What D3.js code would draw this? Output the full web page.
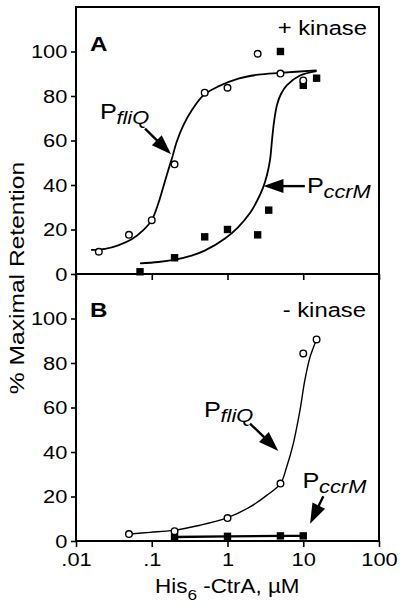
<!DOCTYPE html>
<html><head><meta charset="utf-8">
<script src="https://cdn.jsdelivr.net/npm/d3@7"></script>
<style>body{margin:0;background:#fff} svg{display:block}</style>
</head><body><svg id="c" width="400" height="604"></svg>
<script>
// ---------- data ----------
const xTicks = [0.01, 0.1, 1, 10, 100];
const xTickLabels = [".01", ".1", "1", "10", "100"];
const yTicks = [0, 20, 40, 60, 80, 100];

// Panel A (+ kinase)
const aFliQConc = [0.02, 0.05, 0.1, 0.2, 0.5, 1, 2.5, 5, 10];
const aFliQVal  = [10, 17.6, 24.2, 49.3, 81.5, 83.7, 99, 90.1, 87];
const aCcrMConc = [0.07, 0.2, 0.5, 1, 2.5, 3.5, 5, 10, 15];
const aCcrMVal  = [1, 7.3, 16.7, 20, 17.6, 28.7, 100, 84.8, 88];
const aFliQFitConc = [0.0158, 0.0242, 0.0361, 0.0543, 0.0773, 0.1, 0.122, 0.142, 0.165, 0.187, 0.213, 0.261, 0.336, 0.48, 0.757, 1.39, 2.55, 4.93, 15];
const aFliQFitVal  = [10.8, 11.3, 12.9, 15.6, 19.7, 24.2, 31.7, 39.1, 46.6, 52.6, 59.3, 66.8, 73.5, 80.3, 84.3, 87.8, 89.6, 90.4, 91.5];
const aCcrMFitConc = [0.07, 0.122, 0.203, 0.336, 0.5, 0.927, 1.377, 1.98, 2.45, 2.94, 3.32, 3.64, 3.87, 4.11, 4.5, 5.08, 6.1, 9.06, 15];
const aCcrMFitVal  = [4.8, 5.4, 6.5, 8.3, 10.5, 16, 21, 27.4, 32.8, 38.7, 44.5, 51.2, 60.2, 68.3, 76, 80.9, 84.9, 89.2, 91.2];

// Panel B (- kinase)
const bFliQConc = [0.05, 0.2, 1, 5, 10, 15];
const bFliQVal  = [3.1, 4.4, 10.3, 25.8, 84.3, 90.6];
const bCcrMConc = [0.2, 1, 5, 10];
const bCcrMVal  = [1.8, 2.1, 2.3, 2.3];
const bFliQFitConc = [0.05, 0.095, 0.192, 0.434, 1, 1.98, 3.29, 5, 6.04, 7.39, 9.06, 10.5, 12.3, 15];
const bFliQFitVal  = [3.1, 3.9, 4.8, 7.1, 10.5, 15.3, 20.5, 25.8, 33.3, 43.8, 58.8, 72.3, 82.7, 90.6];

// annotations (data coordinates)
const aArrows = [{from: [0.0815, 65.3], to: [0.18, 53.8]}, {from: [10.5, 39.5], to: [2.98, 39.5]}];
const aLabels = [{at: [0.0207, 69.5], sub: "fliQ"}, {at: [11.2, 36.3], sub: "ccrM"}];
const bArrows = [{from: [1.98, 52.8], to: [4.69, 40.5]}, {from: [18.4, 20.1], to: [12.3, 7.8]}];
const bLabels = [{at: [0.49, 55.6], sub: "fliQ"}, {at: [9.78, 23.7], sub: "ccrM"}];

// ---------- drawing ----------
const SX = 1.15;
const FONT = "'Liberation Sans', Arial, Helvetica, sans-serif";
const svg = d3.select("#c");
const left = 76, right = 379;
const x = d3.scaleLog().domain([0.01, 100]).range([left, right]);
const yA = d3.scaleLinear().domain([0, 120]).range([274, 7]);
const yB = d3.scaleLinear().domain([0, 120]).range([541, 274]);

function txt(px, py, s, o = {}) {
  const t = svg.append("text")
    .attr("transform", `translate(${px},${py})${o.rotate ? ` rotate(${o.rotate})` : ""} scale(${o.sx || SX},1)`)
    .attr("font-family", FONT)
    .attr("font-size", o.size || 18.5)
    .attr("font-weight", o.weight || "normal")
    .attr("font-style", o.style || "normal")
    .attr("text-anchor", o.anchor || "start")
    .attr("fill", "#000");
  t.text(s);
  return t;
}

const zip = (a, b) => a.map((d, i) => [d, b[i]]);

function panel(y, fliQ, ccrM, fliQFit, ccrMFit, ccrMLinear, arrows, labels, fitWidth) {
  const line = d3.line().x(d => x(d[0])).y(d => y(d[1])).curve(d3.curveCatmullRom.alpha(0.5));
  const g = svg.append("g");
  g.append("path").attr("d", line(fliQFit)).attr("fill", "none").attr("stroke", "#000").attr("stroke-width", fitWidth);
  if (ccrMFit) {
    g.append("path").attr("d", line(ccrMFit)).attr("fill", "none").attr("stroke", "#000").attr("stroke-width", fitWidth);
  }
  if (ccrMLinear) {
    const l2 = d3.line().x(d => x(d[0])).y(d => y(d[1]));
    g.append("path").attr("d", l2(ccrM)).attr("fill", "none").attr("stroke", "#000").attr("stroke-width", 2.4);
  }
  const s = 7.4;
  g.selectAll(".sq").data(ccrM).join("rect")
    .attr("x", d => x(d[0]) - s / 2).attr("y", d => y(d[1]) - s / 2)
    .attr("width", s).attr("height", s).attr("fill", "#000");
  g.selectAll(".ci").data(fliQ).join("circle")
    .attr("cx", d => x(d[0])).attr("cy", d => y(d[1])).attr("r", 3.3)
    .attr("fill", "#fff").attr("stroke", "#000").attr("stroke-width", 1.4);

  arrows.forEach(a => {
    const x1 = x(a.from[0]), y1 = y(a.from[1]), x2 = x(a.to[0]), y2 = y(a.to[1]);
    const dx = x2 - x1, dy = y2 - y1, len = Math.hypot(dx, dy);
    const ux = dx / len, uy = dy / len, L = 20, W = 7;
    const bx = x2 - ux * L, by = y2 - uy * L;
    g.append("line").attr("x1", x1).attr("y1", y1).attr("x2", bx + ux * 2).attr("y2", by + uy * 2)
      .attr("stroke", "#000").attr("stroke-width", 2.4);
    g.append("path").attr("d", `M${x2},${y2}L${bx - uy * W},${by + ux * W}L${bx + uy * W},${by - ux * W}Z`).attr("fill", "#000");
  });
  labels.forEach(l => {
    const px = x(l.at[0]), py = y(l.at[1]);
    txt(px, py, "P", {size: 22});
    txt(px + 16.5, py + 5, l.sub, {size: 19, style: "italic"});
  });

  // y axis
  const ax = d3.axisLeft(y).tickValues(yTicks).tickSize(5).tickPadding(2.5).tickSizeOuter(0);
  const ag = svg.append("g").attr("transform", `translate(${left},0)`).call(ax);
  ag.select(".domain").remove();
  ag.selectAll("line").attr("stroke-width", 1.6);
  ag.selectAll("text").attr("font-family", FONT).attr("font-size", 19).attr("fill", "#000")
    .attr("transform", `scale(${SX},1)`);
}

panel(yA, zip(aFliQConc, aFliQVal), zip(aCcrMConc, aCcrMVal), zip(aFliQFitConc, aFliQFitVal), zip(aCcrMFitConc, aCcrMFitVal), false, aArrows, aLabels, 1.8);
panel(yB, zip(bFliQConc, bFliQVal), zip(bCcrMConc, bCcrMVal), zip(bFliQFitConc, bFliQFitVal), null, true, bArrows, bLabels, 1.4);

// x axes
const axA = d3.axisBottom(x).tickValues(xTicks).tickSize(6).tickSizeOuter(0).tickFormat("");
const gA = svg.append("g").attr("transform", "translate(0,274)").call(axA);
gA.select(".domain").remove();
gA.selectAll("line").attr("stroke-width", 1.6);
const axB = d3.axisBottom(x).tickValues(xTicks).tickSize(6).tickPadding(6).tickSizeOuter(0)
  .tickFormat((d, i) => xTickLabels[i]);
const gB = svg.append("g").attr("transform", "translate(0,541)").call(axB);
gB.select(".domain").remove();
gB.selectAll("line").attr("stroke-width", 1.6);
gB.selectAll("text").attr("font-family", FONT).attr("font-size", 19).attr("fill", "#000")
  .attr("transform", `scale(${SX},1)`);

// frame
const frame = [[left, 7, right, 7], [left, 7, left, 541], [right, 7, right, 541], [left, 274, right, 274], [left, 541, right, 541]];
svg.selectAll(".fr").data(frame).join("line")
  .attr("x1", d => d[0]).attr("y1", d => d[1]).attr("x2", d => d[2]).attr("y2", d => d[3])
  .attr("stroke", "#000").attr("stroke-width", 2).attr("stroke-linecap", "square");

// panel letters and conditions
txt(90, 51, "A", {size: 21, weight: "bold"});
txt(90, 317, "B", {size: 21, weight: "bold"});
txt(367, 35, "+ kinase", {size: 19.5, anchor: "end", sx: 1.22});
txt(366, 317, "- kinase", {size: 19.5, anchor: "end", sx: 1.22});

// axis titles
txt(24, 278, "% Maximal Retention", {size: 20.5, anchor: "middle", rotate: -90, sx: 1.2});
const t = txt(155, 593, "", {size: 19.5});
t.append("tspan").text("His");
t.append("tspan").attr("font-size", 15).attr("dy", 7).text("6");
t.append("tspan").attr("dy", -7).text(" -CtrA, µM");
</script>
</body></html>
